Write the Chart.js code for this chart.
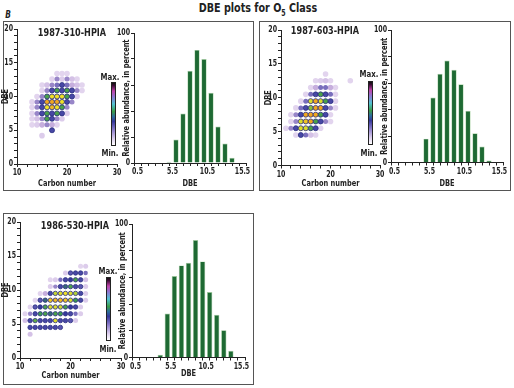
<!DOCTYPE html>
<html>
<head>
<meta charset="utf-8">
<script src="https://cdn.jsdelivr.net/npm/chart.js@4.4.1/dist/chart.umd.min.js"></script>
<style>
  body { margin: 0; width: 514px; height: 388px; background: #fff; position: relative; overflow: hidden;
         font-family: "DejaVu Sans Condensed", "Liberation Sans", Arial, sans-serif; font-weight: bold; color: #222; }
  canvas { position: absolute; }
  .frame { position: absolute; box-sizing: border-box; border: 1.5px solid #555; }
  .lbl { position: absolute; white-space: nowrap; transform: translate(-50%, -50%) scaleX(0.82); }
  .cbar { position: absolute; box-sizing: border-box; border: 1px solid #222;
          background: linear-gradient(to top, #ffffff 0%, #ddd0ee 10%, #8f80cc 24%, #34379a 38%, #2d6f9a 46%, #3a9c48 54%, #52c2d4 66%, #8a7ad2 77%, #c043aa 87%, #3a0c34 96%, #111 100%); }
</style>
</head>
<body>
<div class="lbl" style="left:258px;top:9px;font-size:13px">DBE plots for O<sub style="font-size:8.5px">5</sub> Class</div>
<div class="lbl" style="left:8px;top:14px;font-size:10px;font-style:italic">B</div>

<div class="frame" style="left:3px;top:21px;width:251px;height:170px"></div>
<div class="frame" style="left:259px;top:21px;width:252px;height:170px"></div>
<div class="frame" style="left:3px;top:213px;width:251px;height:172px"></div>

<canvas id="s1" width="124" height="167" style="left:0;top:22px"></canvas>
<canvas id="b1" width="140" height="167" style="left:112px;top:22px"></canvas>
<canvas id="s2" width="124" height="167" style="left:263px;top:22px"></canvas>
<canvas id="b2" width="139" height="167" style="left:370px;top:22px"></canvas>
<canvas id="s3" width="126" height="167" style="left:0;top:214px"></canvas>
<canvas id="b3" width="143" height="165" style="left:108px;top:214px"></canvas>

<div class="lbl" style="left:72px;top:32px;font-size:11px">1987-310-HPIA</div>
<div class="lbl" style="left:325px;top:30px;font-size:11px">1987-603-HPIA</div>
<div class="lbl" style="left:75px;top:225px;font-size:11px">1986-530-HPIA</div>

<div class="cbar" style="left:111px;top:82px;width:5px;height:64px"></div>
<div class="lbl" style="left:110px;top:76px;font-size:9.5px">Max.</div>
<div class="lbl" style="left:110px;top:152px;font-size:9.5px">Min.</div>
<div class="cbar" style="left:368px;top:81px;width:5px;height:64px"></div>
<div class="lbl" style="left:369px;top:73px;font-size:9.5px">Max.</div>
<div class="lbl" style="left:369px;top:152px;font-size:9.5px">Min.</div>
<div class="cbar" style="left:106px;top:277px;width:5px;height:64px"></div>
<div class="lbl" style="left:108px;top:270px;font-size:9.5px">Max.</div>
<div class="lbl" style="left:108px;top:348px;font-size:9.5px">Min.</div>

<script>
// relative abundance by DBE (bar charts)
const dbe310 = [5, 6, 7, 8, 9, 10, 11, 12, 13, 14];
const abund310 = [1, 18, 38, 71, 87, 80, 54, 28, 15, 4];
const dbe603 = [5, 6, 7, 8, 9, 10, 11, 12, 13, 14];
const abund603 = [18, 49, 67, 77, 70, 59, 39, 22, 12, 1.5];
const dbe530 = [4, 5, 6, 7, 8, 9, 10, 11, 12, 13, 14];
const abund530 = [2, 33, 61, 69, 71, 88, 72, 49, 32, 20.5, 5];

// axis ticks
const dbeTicks = [0.5, 1.5, 2.5, 3.5, 4.5, 5.5, 6.5, 7.5, 8.5, 9.5, 10.5, 11.5, 12.5, 13.5, 14.5, 15.5];
const dbeTickLabels = [0.5, 5.5, 10.5, 15.5];
const pctTicks = [0, 20, 40, 60, 80, 100];
const pctTickLabels = [0, 100];
const carbonTicks = [10, 12, 14, 16, 18, 20, 22, 24, 26, 28, 30];
const carbonTickLabels = [10, 20, 30];
const dbeAxisTicks = [0, 1, 2, 3, 4, 5, 6, 7, 8, 9, 10, 11, 12, 13, 14, 15, 16, 17, 18, 19, 20];
const dbeAxisTickLabels = [0, 5, 10, 15, 20];

// DBE vs carbon number maps: [DBE, first carbon number, relative intensity per carbon (0 = min, 1 = max)]
const map310 = [
  [13.4, 18, [0.1, 0.1, 0.1]],
  [12.6, 17, [0.1, 0.3, 0.12, 0.3, 0.15, 0.1]],
  [11.7, 15, [0.1, 0.15, 0.3, 0.35, 0.45, 0.35, 0.2, 0.15, 0.1]],
  [10.9, 15, [0.1, 0.3, 0.45, 0.62, 0.45, 0.62, 0.45, 0.3, 0.1]],
  [10.0, 14, [0.1, 0.3, 0.62, 0.85, 0.85, 0.85, 0.62, 0.45, 0.12]],
  [9.2, 13, [0.1, 0.3, 0.45, 0.95, 0.95, 0.95, 0.85, 0.45, 0.3]],
  [8.4, 13, [0.1, 0.3, 0.45, 0.85, 0.92, 0.85, 0.62, 0.3]],
  [7.5, 13, [0.1, 0.3, 0.45, 0.62, 0.45, 0.62, 0.45, 0.12]],
  [6.7, 13, [0.1, 0.15, 0.3, 0.62, 0.45, 0.3, 0.12]],
  [5.8, 13, [0.1, 0.12, 0.2, 0.3, 0.2, 0.1]],
  [5.0, 17, [0.45]],
  [4.2, 15, [0.12]]
];
const map603 = [
  [13.5, 19, [0.1]],
  [12.5, 17, [0.1, 0.12, 0.15, 0.1]],
  [12.5, 24, [0.1]],
  [11.5, 16, [0.1, 0.2, 0.35, 0.35, 0.2, 0.1]],
  [10.5, 15, [0.1, 0.35, 0.45, 0.62, 0.45, 0.35, 0.1]],
  [9.5, 14, [0.1, 0.35, 0.82, 0.95, 0.82, 0.62, 0.45, 0.1]],
  [8.5, 13, [0.1, 0.35, 0.45, 0.7, 0.95, 0.95, 0.45, 0.3, 0.1]],
  [7.5, 12, [0.1, 0.3, 0.45, 0.95, 0.95, 0.95, 0.62, 0.45, 0.1]],
  [6.5, 12, [0.1, 0.3, 0.82, 0.9, 0.95, 0.62, 0.45, 0.3, 0.1]],
  [5.5, 11, [0.1, 0.3, 0.45, 0.82, 0.82, 0.62, 0.45, 0.1]],
  [4.5, 13, [0.1, 0.45, 0.35, 0.15, 0.1]]
];
const map530 = [
  [13.5, 22, [0.1, 0.12]],
  [12.5, 19, [0.12, 0.4, 0.45, 0.45, 0.35]],
  [11.5, 16, [0.1, 0.12, 0.35, 0.45, 0.5, 0.62, 0.45, 0.15]],
  [10.5, 16, [0.12, 0.3, 0.45, 0.55, 0.62, 0.45, 0.4, 0.12]],
  [9.5, 14, [0.1, 0.2, 0.45, 0.78, 0.82, 0.85, 0.82, 0.75, 0.45, 0.12]],
  [8.5, 13, [0.1, 0.4, 0.55, 0.9, 0.92, 0.92, 0.9, 0.82, 0.6, 0.45, 0.12]],
  [7.5, 12, [0.1, 0.4, 0.5, 0.62, 0.82, 0.82, 0.8, 0.62, 0.5, 0.45, 0.12]],
  [6.5, 11, [0.1, 0.3, 0.45, 0.6, 0.62, 0.55, 0.62, 0.6, 0.5, 0.45, 0.35, 0.12]],
  [5.5, 11, [0.15, 0.45, 0.65, 0.45, 0.45, 0.45, 0.82, 0.45, 0.45, 0.4, 0.12]],
  [4.5, 12, [0.45, 0.45, 0.45, 0.45, 0.45, 0.45, 0.4]],
  [3.5, 12, [0.15]]
];

const FONT = '"DejaVu Sans Condensed", "Liberation Sans", Arial, sans-serif';
const INK = '#222';
const TITLE_LH = 9 * 1.2;

// squeeze canvas text horizontally, the original uses a condensed face
Chart.register({
  id: 'squeeze',
  beforeInit(chart) {
    const ctx = chart.ctx, fill = ctx.fillText.bind(ctx);
    ctx.fillText = (t, x, y) => { ctx.save(); ctx.translate(x, y); ctx.scale(0.82, 1); fill(t, 0, 0); ctx.restore(); };
  }
});

// intensity colour ramp
const ramp = [
  [0, '#f6f0fa'], [0.1, '#e2d4ee'], [0.2, '#c6aedd'], [0.3, '#9886c8'], [0.4, '#5a56b0'],
  [0.5, '#34389a'], [0.6, '#3a9a4c'], [0.75, '#b0d038'], [0.85, '#efe126'], [1, '#f08a1c']
];
function hex(h) { return [1, 3, 5].map(i => parseInt(h.substr(i, 2), 16)); }
function colorFor(v) {
  for (let i = 1; i < ramp.length; i++) {
    if (v <= ramp[i][0]) {
      const [a, ca] = ramp[i - 1], [b, cb] = ramp[i];
      const t = (v - a) / (b - a), p = hex(ca), q = hex(cb);
      return 'rgb(' + p.map((x, k) => Math.round(x + (q[k] - x) * t)).join(',') + ')';
    }
  }
  return ramp[ramp.length - 1][1];
}

function dots(rows) {
  const out = [];
  rows.forEach(([d, c0, vs]) => vs.forEach((v, i) => out.push({ x: c0 + i, y: d, v: v })));
  return out.sort((a, b) => a.v - b.v);
}

// box = [left, top, w, h] of canvas, area = [l, t, r, b] of the plot, both page px;
// yTitleX = page x of the centre of the rotated y title
function axes(box, area, yTitleX, x, y) {
  const fitX = s => { s.height = box[1] + box[3] - area[3]; s.paddingLeft = 0; s.paddingRight = 0; };
  const fitY = s => { s.width = area[0] - box[0]; s.paddingTop = 0; s.paddingBottom = 0; };
  const axis = (a, fit, tpad) => ({
    type: 'linear', min: a.min, max: a.max,
    afterBuildTicks: s => { s.ticks = a.ticks.map(v => ({ value: v })); },
    afterFit: fit,
    ticks: { autoSkip: false, maxRotation: 0, padding: 1, color: INK,
             font: { family: FONT, size: 8.5, weight: 'bold' },
             callback: v => a.labels.includes(v) ? (a.fmt ? a.fmt(v) : String(v)) : '' },
    grid: { drawOnChartArea: false, tickLength: 3, tickColor: INK },
    border: { color: INK, width: 1 },
    title: { display: true, text: a.title, color: INK, padding: tpad,
             font: { family: FONT, size: 9, weight: 'bold' } }
  });
  return {
    responsive: false, animation: false,
    layout: { autoPadding: false, padding: { left: 0, top: area[1] - box[1], right: box[0] + box[2] - area[2], bottom: 0 } },
    plugins: { legend: { display: false }, tooltip: { enabled: false } },
    scales: {
      x: axis(x, fitX, 0),
      y: axis(y, fitY, { top: yTitleX - box[0] - TITLE_LH / 2, bottom: 0 })
    }
  };
}

function mapChart(id, box, area, rows, r) {
  new Chart(document.getElementById(id), {
    type: 'scatter',
    data: { datasets: [{
      data: dots(rows),
      pointRadius: c => c.raw.v < 0.3 ? r + 0.3 : r,
      pointBackgroundColor: c => colorFor(c.raw.v),
      pointBorderColor: '#2a2d80',
      pointBorderWidth: c => c.raw.v >= 0.4 ? 0.8 : 0
    }] },
    options: axes(box, area, box[0] + TITLE_LH / 2,
      { min: 10, max: 30, ticks: carbonTicks, labels: carbonTickLabels, title: 'Carbon number' },
      { min: 0, max: 20, ticks: dbeAxisTicks, labels: dbeAxisTickLabels, title: 'DBE' })
  });
}

function barChart(id, box, area, yTitleX, bins, vals) {
  new Chart(document.getElementById(id), {
    type: 'bar',
    data: { datasets: [{
      data: bins.map((d, i) => ({ x: d, y: vals[i] })),
      backgroundColor: '#1e6a33', borderColor: '#a9d2a4', borderWidth: 0.7,
      categoryPercentage: 0.8, barPercentage: 0.95
    }] },
    options: axes(box, area, yTitleX,
      { min: 0.5, max: 15.5, ticks: dbeTicks, labels: dbeTickLabels, title: 'DBE', fmt: v => v.toFixed(1) },
      { min: 0, max: 100, ticks: pctTicks, labels: pctTickLabels, title: 'Relative abundance, in percent' })
  });
}

mapChart('s1', [0, 22, 124, 167], [17, 29, 117, 164], map310, 2.5);
barChart('b1', [112, 22, 140, 167], [134, 33, 246, 163], 127, dbe310, abund310);
mapChart('s2', [263, 22, 124, 167], [281, 30, 380, 165.5], map603, 2.5);
barChart('b2', [370, 22, 139, 167], [391, 30, 503, 162.5], 385, dbe603, abund603);
mapChart('s3', [0, 214, 126, 167], [20, 222, 121, 358], map530, 2.2);
barChart('b3', [108, 214, 143, 165], [132, 224, 245, 357.5], 123, dbe530, abund530);
</script>
</body>
</html>
